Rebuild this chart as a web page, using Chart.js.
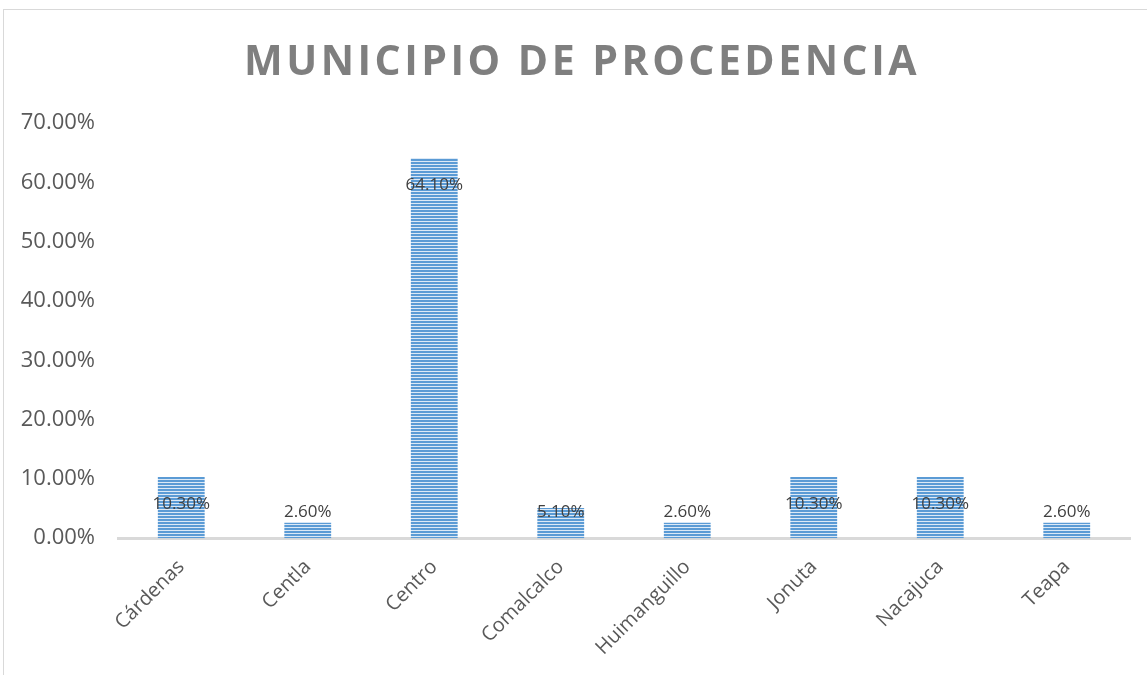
<!DOCTYPE html>
<html>
<head>
<meta charset="utf-8">
<script src="https://cdn.jsdelivr.net/npm/chart.js@4"></script>
<style>
  html, body { margin: 0; padding: 0; background: #fff; }
  #frame { position: absolute; left: 3px; top: 9px; width: 1150px; height: 680px; border: 1px solid #d9d9d9; }
  canvas { position: absolute; left: 0; top: 0; }
</style>
</head>
<body>
<div id="frame"></div>
<canvas id="municipios" width="1147" height="675"></canvas>
<script>
// municipio de procedencia (porcentajes)
const categorias = ['Cárdenas', 'Centla', 'Centro', 'Comalcalco', 'Huimanguillo', 'Jonuta', 'Nacajuca', 'Teapa'];
const porcentajes = [10.3, 2.6, 64.1, 5.1, 2.6, 10.3, 10.3, 2.6];
const tituloGrafico = 'MUNICIPIO DE PROCEDENCIA';

// rayas horizontales como en el original de Excel
function patronRayas() {
  const c = document.createElement('canvas');
  c.width = 4; c.height = 3;
  const g = c.getContext('2d');
  g.fillStyle = '#5b9bd5';
  g.fillRect(0, 0, 4, 2);
  g.fillStyle = '#dce9f6';
  g.fillRect(0, 2, 4, 1);
  return g.createPattern(c, 'repeat');
}

// titulo con espaciado entre letras
const tituloPlugin = {
  id: 'tituloPlugin',
  afterDraw(chart) {
    const ctx = chart.ctx;
    ctx.save();
    ctx.font = 'bold 41px "Open Sans"';
    ctx.fillStyle = '#7f7f7f';
    ctx.letterSpacing = '3.5px';
    ctx.textAlign = 'center';
    ctx.textBaseline = 'middle';
    ctx.fillText(tituloGrafico, 582, 63);
    ctx.restore();
  }
};

// etiquetas de datos (cerca del extremo interior)
const etiquetasPlugin = {
  id: 'etiquetasPlugin',
  afterDatasetsDraw(chart) {
    const ctx = chart.ctx;
    const meta = chart.getDatasetMeta(0);
    ctx.save();
    ctx.font = '17px "Open Sans"';
    ctx.fillStyle = '#404040';
    ctx.textAlign = 'center';
    ctx.textBaseline = 'middle';
    meta.data.forEach((bar, i) => {
      const y = Math.min(bar.y + 27, chart.scales.y.getPixelForValue(0) - 26);
      ctx.fillText(porcentajes[i].toFixed(2) + '%', bar.x, y);
    });
    ctx.restore();
  }
};

const ctx = document.getElementById('municipios').getContext('2d');
new Chart(ctx, {
  type: 'bar',
  data: {
    labels: categorias,
    datasets: [{
      data: porcentajes,
      backgroundColor: patronRayas(),
      borderWidth: 0,
      barPercentage: 0.37,
      categoryPercentage: 1
    }]
  },
  options: {
    responsive: false,
    animation: false,
    layout: { padding: { top: 123, right: 17, left: 10, bottom: 6 } },
    plugins: {
      legend: { display: false },
      tooltip: { enabled: false }
    },
    scales: {
      x: {
        grid: { display: false },
        border: { color: '#d9d9d9', width: 3 },
        ticks: {
          maxRotation: 45, minRotation: 45,
          padding: 9,
          color: '#595959',
          font: { family: 'Open Sans', size: 20 }
        }
      },
      y: {
        min: 0, max: 70,
        grid: { display: false },
        border: { display: false },
        afterFit: scale => { scale.width = 108; },
        ticks: {
          stepSize: 10,
          padding: 15,
          color: '#595959',
          font: { family: 'Open Sans', size: 22 },
          callback: v => v.toFixed(2) + '%'
        }
      }
    }
  },
  plugins: [tituloPlugin, etiquetasPlugin]
});
</script>
</body>
</html>
